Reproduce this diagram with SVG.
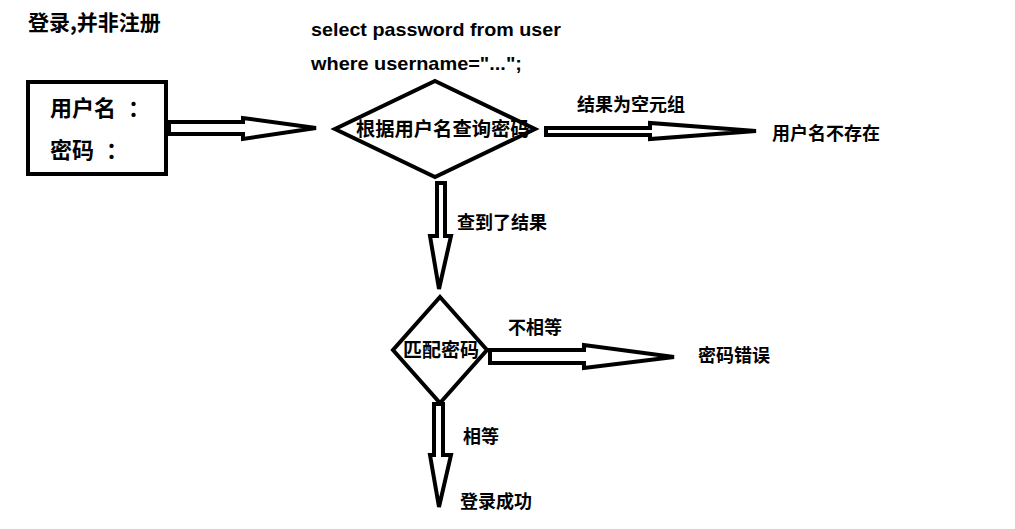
<svg xmlns="http://www.w3.org/2000/svg" width="1015" height="529" viewBox="0 0 1015 529">
<style>
.t{font-family:"Noto Sans CJK SC","Liberation Sans",sans-serif;font-weight:bold;fill:#000}
.e{font-family:"Liberation Sans","Noto Sans CJK SC",sans-serif;font-weight:bold;fill:#000}
.s{fill:#fff;stroke:#000;stroke-width:4;stroke-linejoin:miter}
</style>
<rect width="1015" height="529" fill="#fff"/>
<text class="t" x="28" y="30" font-size="21">登录,并非注册</text>
<text class="e" x="311" y="36" font-size="19" textLength="250" lengthAdjust="spacingAndGlyphs">select password from user</text>
<text class="e" x="311" y="70" font-size="19" textLength="211" lengthAdjust="spacingAndGlyphs">where username="...";</text>
<g id="connectors">
<polygon class="s" points="169,122 243,122 243,118 316,128 243,139 243,134 169,134"/>
<polygon class="s" points="546,128 650,128 650,123 756,131 650,139 650,135 546,135"/>
<polygon class="s" points="437,183 445,183 445,236 451,236 439,289 430,236 437,236"/>
<polygon class="s" points="490,350 584,350 584,345 674,357 584,368 584,363 490,363"/>
<polygon class="s" points="434,404 443,404 443,455 451,455 439,507 430,455 434,455"/>
<text class="t" x="577" y="111" font-size="18">结果为空元组</text>
<text class="t" x="457" y="229" font-size="18">查到了结果</text>
<text class="t" x="508" y="334" font-size="18">不相等</text>
<text class="t" x="463" y="443" font-size="18">相等</text>
</g>
<g id="login">
<rect class="s" x="28" y="82" width="138" height="92"/>
<text class="t" x="50" y="116" font-size="22">用户名<tspan x="128">：</tspan></text>
<text class="t" x="50" y="158" font-size="22">密码<tspan x="106">：</tspan></text>
</g>
<g id="query">
<polygon class="s" points="435,81 535,129 435,177 335,129"/>
<text class="t" x="356" y="136" font-size="19.3">根据用户名查询密码</text>
</g>
<g id="match">
<polygon class="s" points="440,297 487,350 440,403 393,350"/>
<text class="t" x="403" y="357" font-size="19">匹配密码</text>
</g>
<g id="notexist">
<text class="t" x="772" y="140" font-size="18">用户名不存在</text>
</g>
<g id="wrong">
<text class="t" x="698" y="362" font-size="18">密码错误</text>
</g>
<g id="success">
<text class="t" x="460" y="508" font-size="18">登录成功</text>
</g>
</svg>
